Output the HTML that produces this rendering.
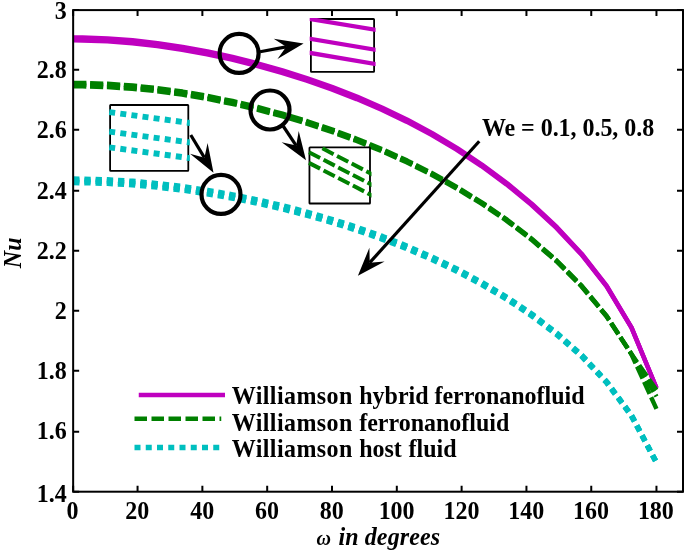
<!DOCTYPE html>
<html><head><meta charset="utf-8"><title>Nu vs omega</title>
<style>html,body{margin:0;padding:0;background:#fff}svg{display:block}</style></head>
<body>
<svg width="685" height="552" viewBox="0 0 685 552">
<rect width="685" height="552" fill="#fff"/>
<path d="M73.15,37.42 L82.59,37.49 L107.58,38.37 L132.59,40.25 L157.60,43.08 L182.60,46.84 L207.60,51.48 L232.59,56.96 L257.57,63.25 L282.55,70.36 L307.53,78.29 L332.51,87.11 L357.48,96.88 L382.45,107.73 L407.41,119.78 L432.37,133.19 L457.32,148.11 L482.26,164.72 L507.19,183.23 L532.10,203.90 L557.01,227.18 L581.90,253.92 L606.78,285.91 L631.63,327.52 L656.46,388.00" fill="none" stroke="#bf00bf" stroke-width="4.4" stroke-linejoin="round"/>
<path d="M73.15,38.92 L82.55,38.99 L107.50,39.87 L132.45,41.73 L157.41,44.55 L182.36,48.28 L207.31,52.89 L232.26,58.34 L257.22,64.59 L282.17,71.64 L307.12,79.52 L332.07,88.28 L357.03,97.99 L381.98,108.76 L406.93,120.73 L431.89,134.05 L456.84,148.87 L481.79,165.39 L506.74,183.79 L531.70,204.36 L556.65,227.54 L581.60,254.17 L606.55,286.06 L631.51,327.58 L656.46,388.00" fill="none" stroke="#bf00bf" stroke-width="4.4" stroke-linejoin="round"/>
<path d="M73.15,40.42 L82.51,40.49 L107.42,41.36 L132.31,43.22 L157.21,46.02 L182.12,49.73 L207.03,54.31 L231.94,59.71 L256.86,65.92 L281.78,72.93 L306.71,80.76 L331.64,89.45 L356.57,99.09 L381.51,109.79 L406.45,121.68 L431.40,134.91 L456.36,149.64 L481.32,166.06 L506.30,184.36 L531.29,204.82 L556.29,227.90 L581.30,254.42 L606.33,286.21 L631.38,327.64 L656.46,388.00" fill="none" stroke="#bf00bf" stroke-width="4.4" stroke-linejoin="round"/>
<path d="M73.15,82.87 L82.59,82.94 L107.58,83.75 L132.59,85.47 L157.60,88.08 L182.60,91.55 L207.59,95.86 L232.58,100.98 L257.56,106.92 L282.53,113.66 L307.51,121.22 L332.47,129.62 L357.44,138.94 L382.39,149.24 L407.35,160.61 L432.30,173.18 L457.24,187.09 L482.17,202.51 L507.10,219.67 L532.02,238.90 L556.93,260.69 L581.84,285.87 L606.73,315.98 L631.60,354.13 L656.46,390.00" fill="none" stroke="#008000" stroke-width="4.4" pathLength="689.2" stroke-dasharray="13.2 3.7" stroke-linejoin="round"/>
<path d="M73.15,84.57 L82.55,84.64 L107.50,85.43 L132.45,87.11 L157.41,89.67 L182.36,93.09 L207.31,97.34 L232.26,102.41 L257.22,108.28 L282.17,114.94 L307.12,122.42 L332.07,130.75 L357.03,139.99 L381.98,150.20 L406.93,161.48 L431.89,173.96 L456.84,187.77 L481.79,203.10 L506.74,220.17 L531.70,239.30 L556.65,261.00 L581.60,286.09 L606.55,316.11 L631.51,354.18 L656.46,396.50" fill="none" stroke="#008000" stroke-width="4.4" pathLength="694.7" stroke-dasharray="13.2 3.7" stroke-linejoin="round"/>
<path d="M73.15,86.27 L82.51,86.33 L107.42,87.10 L132.31,88.75 L157.21,91.27 L182.12,94.64 L207.03,98.83 L231.95,103.83 L256.88,109.63 L281.81,116.23 L306.74,123.63 L331.68,131.88 L356.62,141.03 L381.57,151.16 L406.52,162.35 L431.48,174.74 L456.44,188.46 L481.41,203.69 L506.39,220.66 L531.37,239.70 L556.36,261.30 L581.37,286.30 L606.38,316.23 L631.42,354.24 L656.46,408.90" fill="none" stroke="#008000" stroke-width="4.4" pathLength="705.7" stroke-dasharray="13.2 3.7" stroke-linejoin="round"/>
<path d="M73.15,179.04 L82.59,179.10 L107.58,179.80 L132.59,181.30 L157.59,183.58 L182.59,186.60 L207.59,190.35 L232.58,194.79 L257.56,199.92 L282.54,205.73 L307.52,212.24 L332.50,219.48 L357.47,227.51 L382.44,236.40 L407.41,246.23 L432.36,257.13 L457.32,269.20 L482.26,282.60 L507.20,297.53 L532.13,314.26 L557.04,333.26 L581.95,355.29 L606.84,381.78 L631.71,415.55 L656.46,462.56" fill="none" stroke="#00bfbf" stroke-width="5.4" pathLength="680.3" stroke-dasharray="6.3 4.9" stroke-linejoin="round"/>
<path d="M73.15,180.84 L82.55,180.90 L107.50,181.59 L132.45,183.08 L157.41,185.33 L182.36,188.33 L207.31,192.03 L232.26,196.44 L257.22,201.51 L282.17,207.27 L307.12,213.71 L332.07,220.88 L357.03,228.83 L381.98,237.63 L406.93,247.38 L431.89,258.18 L456.84,270.15 L481.79,283.44 L506.74,298.25 L531.70,314.87 L556.65,333.74 L581.60,355.65 L606.55,382.01 L631.51,415.68 L656.46,462.60" fill="none" stroke="#00bfbf" stroke-width="5.4" pathLength="680.3" stroke-dasharray="6.3 4.9" stroke-linejoin="round"/>
<path d="M73.15,182.64 L82.51,182.70 L107.42,183.39 L132.32,184.86 L157.22,187.09 L182.13,190.05 L207.04,193.72 L231.95,198.08 L256.87,203.11 L281.79,208.80 L306.72,215.18 L331.65,222.28 L356.58,230.15 L381.52,238.87 L406.46,248.53 L431.41,259.23 L456.36,271.09 L481.32,284.28 L506.29,298.98 L531.27,315.47 L556.25,334.22 L581.25,356.01 L606.27,382.25 L631.31,415.80 L656.46,462.64" fill="none" stroke="#00bfbf" stroke-width="5.4" pathLength="680.3" stroke-dasharray="6.3 4.9" stroke-linejoin="round"/>
<rect x="73.15" y="10.1" width="609.85" height="481.59999999999997" fill="none" stroke="#000" stroke-width="2"/>
<path d="M73.15,491.7 v-6 M73.15,10.1 v6 M137.56,491.7 v-6 M137.56,10.1 v6 M202.37,491.7 v-6 M202.37,10.1 v6 M267.19,491.7 v-6 M267.19,10.1 v6 M332.00,491.7 v-6 M332.00,10.1 v6 M396.81,491.7 v-6 M396.81,10.1 v6 M461.62,491.7 v-6 M461.62,10.1 v6 M526.44,491.7 v-6 M526.44,10.1 v6 M591.25,491.7 v-6 M591.25,10.1 v6 M656.46,491.7 v-6 M656.46,10.1 v6 M73.15,10.10 h6 M683.0,10.10 h-6 M73.15,69.80 h6 M683.0,69.80 h-6 M73.15,129.80 h6 M683.0,129.80 h-6 M73.15,190.80 h6 M683.0,190.80 h-6 M73.15,250.80 h6 M683.0,250.80 h-6 M73.15,310.80 h6 M683.0,310.80 h-6 M73.15,370.80 h6 M683.0,370.80 h-6 M73.15,431.80 h6 M683.0,431.80 h-6 M73.15,491.70 h6 M683.0,491.70 h-6" stroke="#000" stroke-width="2" fill="none"/>
<g font-family="'Liberation Serif', 'Times New Roman', serif" font-weight="bold" font-size="24px" fill="#000">
<text transform="translate(72.55,518.60) scale(1,1.06)" text-anchor="middle" >0</text>
<text transform="translate(137.36,518.60) scale(1,1.06)" text-anchor="middle" >20</text>
<text transform="translate(202.17,518.60) scale(1,1.06)" text-anchor="middle" >40</text>
<text transform="translate(266.99,518.60) scale(1,1.06)" text-anchor="middle" >60</text>
<text transform="translate(331.80,518.60) scale(1,1.06)" text-anchor="middle" >80</text>
<text transform="translate(396.61,518.60) scale(1,1.06)" text-anchor="middle" >100</text>
<text transform="translate(461.42,518.60) scale(1,1.06)" text-anchor="middle" >120</text>
<text transform="translate(526.24,518.60) scale(1,1.06)" text-anchor="middle" >140</text>
<text transform="translate(591.05,518.60) scale(1,1.06)" text-anchor="middle" >160</text>
<text transform="translate(655.86,518.60) scale(1,1.06)" text-anchor="middle" >180</text>
<text transform="translate(66.80,18.90) scale(1,1.06)" text-anchor="end" >3</text>
<text transform="translate(66.80,78.20) scale(1,1.06)" text-anchor="end" >2.8</text>
<text transform="translate(66.80,138.40) scale(1,1.06)" text-anchor="end" >2.6</text>
<text transform="translate(66.80,198.60) scale(1,1.06)" text-anchor="end" >2.4</text>
<text transform="translate(66.80,258.80) scale(1,1.06)" text-anchor="end" >2.2</text>
<text transform="translate(66.80,319.00) scale(1,1.06)" text-anchor="end" >2</text>
<text transform="translate(66.80,379.20) scale(1,1.06)" text-anchor="end" >1.8</text>
<text transform="translate(66.80,439.40) scale(1,1.06)" text-anchor="end" >1.6</text>
<text transform="translate(66.80,501.60) scale(1,1.06)" text-anchor="end" >1.4</text>
<text transform="translate(231.70,404.20) scale(1,1.06)" text-anchor="start" textLength="120.6" lengthAdjust="spacing">Williamson</text>
<text transform="translate(359.20,404.20) scale(1,1.06)" text-anchor="start" >hybrid</text>
<text transform="translate(434.40,404.20) scale(1,1.06)" text-anchor="start" >ferronanofluid</text>
<text transform="translate(231.70,430.50) scale(1,1.06)" text-anchor="start" textLength="120.6" lengthAdjust="spacing">Williamson</text>
<text transform="translate(359.20,430.50) scale(1,1.06)" text-anchor="start" >ferronanofluid</text>
<text transform="translate(231.70,457.30) scale(1,1.06)" text-anchor="start" textLength="120.6" lengthAdjust="spacing">Williamson</text>
<text transform="translate(359.20,457.30) scale(1,1.06)" text-anchor="start" >host</text>
<text transform="translate(408.50,457.30) scale(1,1.06)" text-anchor="start" >fluid</text>
<text transform="translate(481.90,136.20) scale(1,1.06)" text-anchor="start" textLength="172.3" lengthAdjust="spacing">We = 0.1, 0.5, 0.8</text>
<text transform="translate(316.60,544.60) scale(1,1.06)" text-anchor="start" font-style="italic" font-size="20px">ω</text>
<text transform="translate(338.40,544.60) scale(1,1.06)" text-anchor="start" font-style="italic" textLength="101.7" lengthAdjust="spacing">in degrees</text>
<text transform="translate(21,252.8) rotate(-90) scale(1,1.06)" text-anchor="middle" font-style="italic">Nu</text>
</g>
<path d="M138.75,395 H225" stroke="#bf00bf" stroke-width="4.6" fill="none"/>
<path d="M134.5,418.75 H221.25" stroke="#008000" stroke-width="4.6" stroke-dasharray="12.5 4.5" fill="none"/>
<path d="M134.5,447.5 H220" stroke="#00bfbf" stroke-width="5.5" stroke-dasharray="6 5.25" fill="none"/>
<rect x="310.9" y="19.0" width="63.20" height="52.80" rx="0.6" fill="#fff" stroke="#000" stroke-width="1.8"/>
<clipPath id="cb1"><rect x="309.70" y="18.10" width="65.90" height="54.60"/></clipPath>
<g clip-path="url(#cb1)" stroke="#bf00bf" stroke-width="4.3" fill="none">
<path d="M305,18.23 L380,30.57"/>
<path d="M305,38.01 L380,50.59"/>
<path d="M305,52.11 L380,64.74"/>
</g>
<rect x="309.45" y="147.45" width="60.55" height="56.05" rx="0.6" fill="#fff" stroke="#000" stroke-width="1.8"/>
<clipPath id="cb2"><rect x="308.25" y="146.55" width="63.25" height="57.85"/></clipPath>
<g clip-path="url(#cb2)" stroke="#008000" stroke-width="4" stroke-dasharray="12.6 3.9" fill="none">
<path d="M322.4,148.35 L380,178.30"/>
<path d="M308.9,152.25 L380,189.01"/>
<path d="M308.9,162.85 L380,199.61"/>
</g>
<rect x="110.1" y="105.0" width="78.20" height="65.80" rx="0.6" fill="#fff" stroke="#000" stroke-width="1.8"/>
<clipPath id="cb3"><rect x="108.90" y="104.10" width="80.90" height="67.60"/></clipPath>
<g clip-path="url(#cb3)" stroke="#00bfbf" stroke-width="5.9" stroke-dasharray="6 5.2" fill="none">
<path d="M109.2,112.10 L196,123.73"/>
<path d="M109.2,131.60 L196,143.23"/>
<path d="M109.2,147.30 L196,158.93"/>
</g>
<circle cx="239.1" cy="53.4" r="19.5" fill="none" stroke="#000" stroke-width="4.2"/>
<circle cx="270" cy="110" r="19.5" fill="none" stroke="#000" stroke-width="4.2"/>
<circle cx="221" cy="194.4" r="19.5" fill="none" stroke="#000" stroke-width="4.2"/>
<path d="M260.00,51.75 L286.23,46.85" stroke="#000" stroke-width="3.2" fill="none"/>
<path d="M303.60,43.60 L277.47,58.91 L286.23,46.85 L273.70,38.76 Z" fill="#000"/>
<path d="M283.30,126.25 L296.20,145.60" stroke="#000" stroke-width="3.2" fill="none"/>
<path d="M306.00,160.30 L281.66,142.27 L296.20,145.60 L298.72,130.90 Z" fill="#000"/>
<path d="M190.75,135.00 L204.39,157.66" stroke="#000" stroke-width="3.2" fill="none"/>
<path d="M213.50,172.80 L190.02,153.67 L204.39,157.66 L207.59,143.10 Z" fill="#000"/>
<path d="M479.25,141.25 L369.73,262.68" stroke="#000" stroke-width="3.2" fill="none"/>
<path d="M357.90,275.80 L369.38,247.77 L369.73,262.68 L384.60,261.50 Z" fill="#000"/>
</svg>
</body></html>
